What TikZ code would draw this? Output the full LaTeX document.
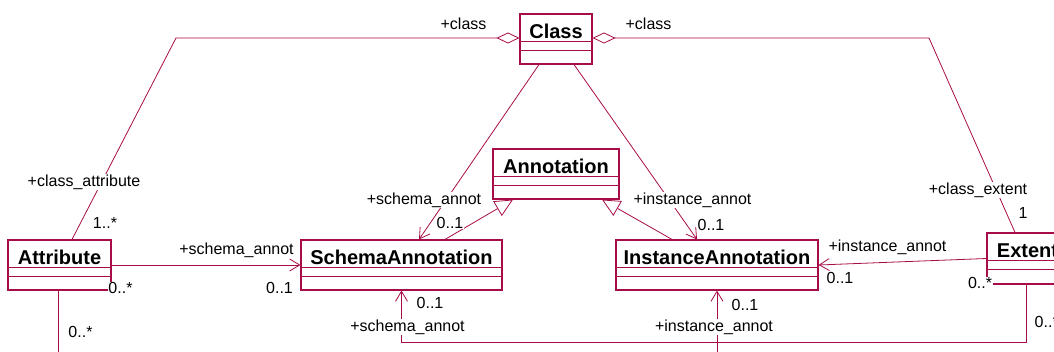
\documentclass[tikz,border=0pt]{standalone}
\usepackage{fontspec}
\setmainfont{Liberation Sans}
\usetikzlibrary{arrows.meta}
\definecolor{umlred}{RGB}{168,12,72}
% three compartments: name / attributes / operations
\newcommand\umlcompartments[1]{%
  \draw[umlred, line width=1pt] ([yshift=-28pt]#1.north west) -- ([yshift=-28pt]#1.north east);
  \draw[umlred, line width=1pt] ([yshift=-37.5pt]#1.north west) -- ([yshift=-37.5pt]#1.north east);
}
\begin{document}
\begin{tikzpicture}[x=1pt,y=-1pt,
  umlbox/.style={draw=umlred, line width=1.1pt, fill=white, inner sep=0pt},
  cname/.style={anchor=base, font=\fontsize{20}{22}\selectfont\bfseries, inner sep=0pt},
  assoc/.style={draw=umlred, line width=0.8pt},
  lbl/.style={font=\fontsize{16}{18}\selectfont, fill=white, inner sep=0.5pt, text=black},
  nav/.style={-{Straight Barb[length=10pt,width=12pt]}},
  gen/.style={-{Triangle[open,length=18pt,width=17pt,fill=white]}},
  agg/.style={{Diamond[open,length=23pt,width=11pt,fill=white]}-},
]
\useasboundingbox (0,0) rectangle (1054,352);
\clip (0,0) rectangle (1054,352);

% classes
\node[umlbox, minimum width=72pt,  minimum height=50pt] (cls)  at (556,39) {};
\node[umlbox, minimum width=126pt, minimum height=50pt] (ann)  at (556,174) {};
\node[umlbox, minimum width=103pt, minimum height=50pt] (attr) at (59.5,265) {};
\node[umlbox, minimum width=201pt, minimum height=50pt] (sa)   at (401.5,265) {};
\node[umlbox, minimum width=202pt, minimum height=50pt] (ia)   at (717,265) {};
\node[umlbox, minimum width=81pt,  minimum height=51pt] (ext)  at (1027.5,258.5) {};

\foreach \b in {cls,ann,attr,sa,ia,ext} {\umlcompartments{\b}}

\node[cname] (clsname)  at ([yshift=-25pt]cls.north)  {Class};
\node[cname] (annname)  at ([yshift=-25pt]ann.north)  {Annotation};
\node[cname] (attrname) at ([yshift=-25pt]attr.north) {Attribute};
\node[cname] (saname)   at ([yshift=-25pt]sa.north)   {SchemaAnnotation};
\node[cname] (ianame)   at ([yshift=-25pt]ia.north)   {InstanceAnnotation};
\node[cname] (extname)  at ([yshift=-25pt]ext.north)  {Extent};

% connectors
\coordinate (bendL) at (176,38);
\coordinate (bendR) at (929,38);
\coordinate (lowR) at (1026,342);
\coordinate (attrDown) at (58,370);
\coordinate (iaUp) at (717,370);

\draw[assoc, agg] ([yshift=1pt]cls.west) -- (bendL) -- ([xshift=12.5pt]attr.north);
\draw[assoc, agg] ([yshift=1pt]cls.east) -- (bendR) -- ([xshift=-12.5pt]ext.north);
\draw[assoc, nav] ([xshift=-17pt]cls.south) -- ([xshift=17.5pt]sa.north);
\draw[assoc, nav] ([xshift=18pt]cls.south) -- ([xshift=-20pt]ia.north);
\draw[assoc, gen] ([xshift=43.5pt]sa.north) -- ([xshift=-43pt]ann.south);
\draw[assoc, gen] ([xshift=-45pt]ia.north) -- ([xshift=46pt]ann.south);
\draw[assoc, nav] (attr.east) -- (sa.west);
\draw[assoc, nav] (ext.west) -- (ia.east);
\draw[assoc, nav] ([xshift=-1.5pt]ext.south) -- (lowR) -| (sa.south);
\draw[assoc] ([xshift=-1.5pt]attr.south) -- (attrDown);
\draw[assoc, nav] (iaUp) -- (ia.south);

% role names and multiplicities
\node[lbl] (l1)  at (463.5,24)  {+class};
\node[lbl] (l2)  at (648.5,24)  {+class};
\node[lbl] (l3)  at (84,182)    {+class\_attribute};
\node[lbl] (l4)  at (105,223)   {1..*};
\node[lbl] (l5)  at (424,200)   {+schema\_annot};
\node[lbl] (l6)  at (450,223)   {0..1};
\node[lbl] (l7)  at (692.5,200) {+instance\_annot};
\node[lbl] (l8)  at (711,225)   {0..1};
\node[lbl] (l9)  at (978,190)   {+class\_extent};
\node[lbl] (l10) at (1023,213)  {1};
\node[lbl] (l11) at (236.5,250) {+schema\_annot};
\node[lbl] (l12) at (279.5,288) {0..1};
\node[lbl] (l13) at (120.5,288) {0..*};
\node[lbl] (l14) at (80.5,332)  {0..*};
\node[lbl] (l15) at (887.5,247) {+instance\_annot};
\node[lbl] (l16) at (840,278)   {0..1};
\node[lbl] (l17) at (980,283)   {0..*};
\node[lbl] (l18) at (430,303)   {0..1};
\node[lbl] (l19) at (407.5,327) {+schema\_annot};
\node[lbl] (l20) at (745,305)   {0..1};
\node[lbl] (l21) at (714,327)   {+instance\_annot};
\node[lbl, anchor=west] (l22) at (1034,322) {0..*};
\end{tikzpicture}
\end{document}
